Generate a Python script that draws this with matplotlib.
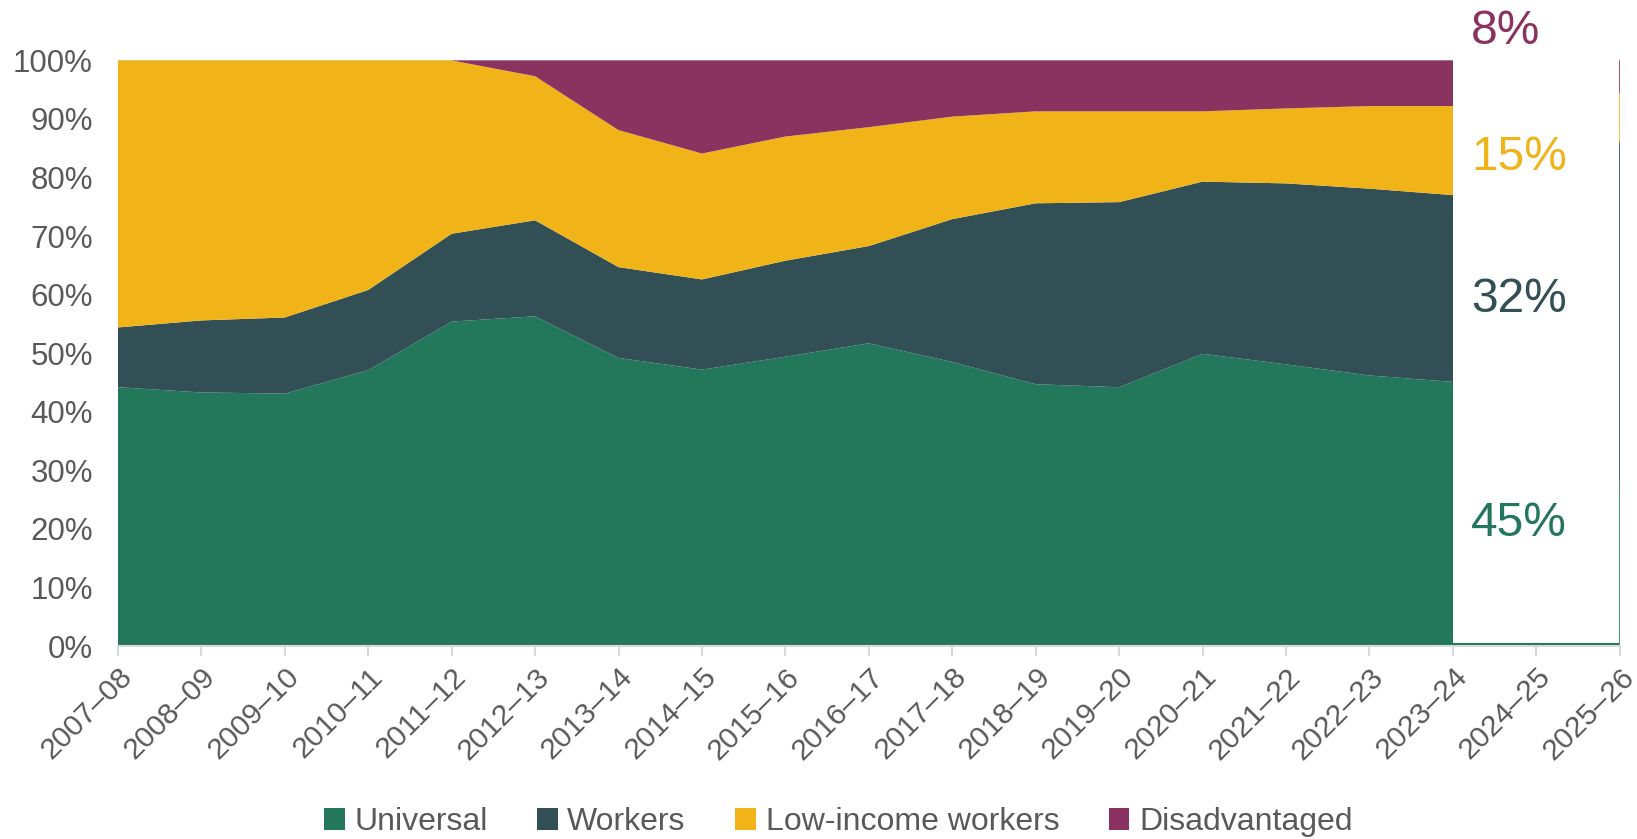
import numpy as np
import matplotlib.pyplot as plt
import matplotlib.transforms as mtransforms
from matplotlib.patches import Rectangle

plt.rcParams['font.family'] = ['Liberation Sans', 'DejaVu Sans']

years = ["2007\u201308", "2008\u201309", "2009\u201310", "2010\u201311", "2011\u201312",
         "2012\u201313", "2013\u201314", "2014\u201315", "2015\u201316", "2016\u201317",
         "2017\u201318", "2018\u201319", "2019\u201320", "2020\u201321", "2021\u201322",
         "2022\u201323", "2023\u201324", "2024\u201325", "2025\u201326"]

# shares in % (last two years are hidden behind the label box)
universal = [44.2, 43.3, 43.1, 47.1, 55.4, 56.3, 49.2, 47.2, 49.4, 51.7,
             48.5, 44.7, 44.2, 49.9, 48.1, 46.2, 45.1, 36.0, 28.0]
workers = [10.2, 12.3, 13.0, 13.7, 15.0, 16.4, 15.5, 15.4, 16.4, 16.6,
           24.4, 30.9, 31.6, 29.4, 30.9, 31.9, 31.9, 45.0, 58.2]
low_income = [45.6, 44.4, 43.9, 39.2, 29.6, 24.6, 23.4, 21.5, 21.2, 20.3,
              17.5, 15.7, 15.5, 12.0, 12.8, 14.1, 15.2, 12.0, 8.2]
disadvantaged = [0, 0, 0, 0, 0, 2.7, 11.9, 15.9, 13.0, 11.4,
                 9.6, 8.7, 8.7, 8.7, 8.2, 7.8, 7.8, 7.0, 5.6]

series_names = ["Universal", "Workers", "Low-income workers", "Disadvantaged"]
end_labels = ["45%", "32%", "15%", "8%"]
colors = ["#23775A", "#324F56", "#F0B418", "#8B3360"]

fig = plt.figure(figsize=(16.37, 8.39), dpi=100)
ax = fig.add_axes([0.072, 0.23, 0.9175, 0.698])

x = np.arange(len(years))
ax.stackplot(x, universal, workers, low_income, disadvantaged,
             colors=colors, labels=series_names, linewidth=0)

# white box over the projected years
ax.add_patch(Rectangle((16, 0.6), 1.985, 99.4, facecolor="white",
                       edgecolor="none", zorder=3))

# end-of-series labels
label_y = [21.0, 59.2, 83.4, 105.0]
for txt, yy, c in zip(end_labels, label_y, colors):
    ax.text(16.22, yy, txt, color=c, fontsize=34.5, ha="left", va="center",
            zorder=4, clip_on=False)

ax.set_xlim(0, 18)
ax.set_ylim(0, 100)
ax.set_yticks(np.arange(0, 101, 10))
ax.set_yticklabels([f"{v}%" for v in range(0, 101, 10)])
ax.set_xticks(x)
ax.set_xticklabels(years, rotation=45, ha="right", rotation_mode="anchor")
shift = mtransforms.ScaledTranslation(-0.06, 0, fig.dpi_scale_trans)
for lab in ax.get_xticklabels():
    lab.set_transform(lab.get_transform() + shift)

ax.axhline(100, color="#D9D9D9", linewidth=1, zorder=0.5)
for s in ["top", "right", "left"]:
    ax.spines[s].set_visible(False)
ax.spines["bottom"].set_color("#D9D9D9")
ax.spines["bottom"].set_linewidth(1.5)
ax.tick_params(axis="x", colors="#D9D9D9", length=7, width=1.5, labelsize=21.5,
               labelcolor="#595959", pad=5)
ax.tick_params(axis="y", length=0, labelsize=22.5, labelcolor="#595959", pad=18)

handles, labels = ax.get_legend_handles_labels()
fig.legend(handles, labels, loc="center", bbox_to_anchor=(0.512, 0.02), ncol=4,
           frameon=False, fontsize=23, labelcolor="#595959",
           handlelength=0.65, handleheight=0.65, handletextpad=0.3, columnspacing=1.55)

fig.savefig("out.png", dpi=100)
